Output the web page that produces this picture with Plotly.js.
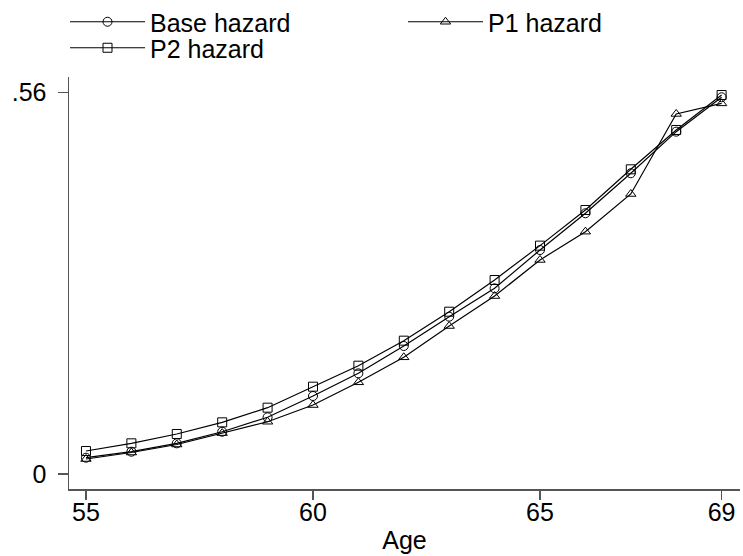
<!DOCTYPE html>
<html>
<head>
<meta charset="utf-8">
<script src="https://cdn.plot.ly/plotly-3.0.1.min.js"></script>
<style>html,body{margin:0;padding:0;background:#fff;}#chart{width:743px;height:556px;}</style>
</head>
<body>
<div id="chart"></div>
<script>
const ages = [55,56,57,58,59,60,61,62,63,64,65,66,67,68,69];
const baseHazard = [0.0239,0.0327,0.0450,0.0620,0.0832,0.1144,0.1477,0.1878,0.2308,0.2724,0.3286,0.3825,0.4412,0.5022,0.5527];
const p1Hazard   = [0.0220,0.0315,0.0433,0.0600,0.0767,0.1012,0.1345,0.1712,0.2171,0.2611,0.3140,0.3555,0.4108,0.5282,0.5437];
const p2Hazard   = [0.0337,0.0450,0.0587,0.0758,0.0973,0.1281,0.1589,0.1956,0.2381,0.2846,0.3350,0.3873,0.4470,0.5047,0.5560];
const xTicks = [55,60,65,69];
const yTicks = [0,0.56];
const yTickText = ['0','.56'];

const FONT = 'Liberation Sans, Arial, sans-serif';
function tr(name, y, sym, leg){
  return {x: ages, y: y, name: name, type:'scatter', mode:'lines+markers',
    line:{color:'#000', width:1.2},
    marker:{symbol:sym, size:9, color:'#000', line:{width:1, color:'#000'}},
    legend: leg};
}
const data = [
  tr('Base hazard', baseHazard, 'circle-open', 'legend'),
  tr('P1 hazard', p1Hazard, 'triangle-up-open', 'legend3'),
  tr('P2 hazard', p2Hazard, 'square-open', 'legend2')
];
const legCommon = {orientation:'v', xref:'container', yref:'container', xanchor:'left', yanchor:'middle',
  font:{family:FONT, size:25, color:'#000'}, itemwidth:75,
  bgcolor:'rgba(0,0,0,0)', borderwidth:0, itemclick:false};
const layout = {
  width:743, height:556,
  margin:{l:69, r:3, t:77, b:67, autoexpand:false},
  paper_bgcolor:'#fff', plot_bgcolor:'#fff',
  font:{family:FONT, size:25, color:'#000'},
  showlegend:true,
  legend: Object.assign({}, legCommon, {x:65/743, y:1-22/556}),
  legend3: Object.assign({}, legCommon, {x:403/743, y:1-22/556}),
  legend2: Object.assign({}, legCommon, {x:65/743, y:1-48/556}),
  xaxis:{range:[54.626,69.405], tickvals:xTicks, ticktext:xTicks.map(String),
    showgrid:false, zeroline:false, showline:true, linecolor:'#555', linewidth:1.5,
    ticks:'outside', ticklen:9, tickcolor:'#555', tickwidth:1.5, ticklabelstandoff:-9,
    tickfont:{family:FONT, size:25, color:'#000'},
    title:{text:'Age', font:{family:FONT, size:25, color:'#000'}, standoff:7}},
  yaxis:{range:[-0.022,0.5824], tickvals:yTicks, ticktext:yTickText,
    showgrid:false, zeroline:false, showline:true, linecolor:'#555', linewidth:1.5,
    ticks:'outside', ticklen:10, tickcolor:'#555', tickwidth:1.5, ticklabelstandoff:6,
    tickfont:{family:FONT, size:25, color:'#000'}}
};
Plotly.newPlot('chart', data, layout, {displayModeBar:false, staticPlot:true});
</script>
</body>
</html>
